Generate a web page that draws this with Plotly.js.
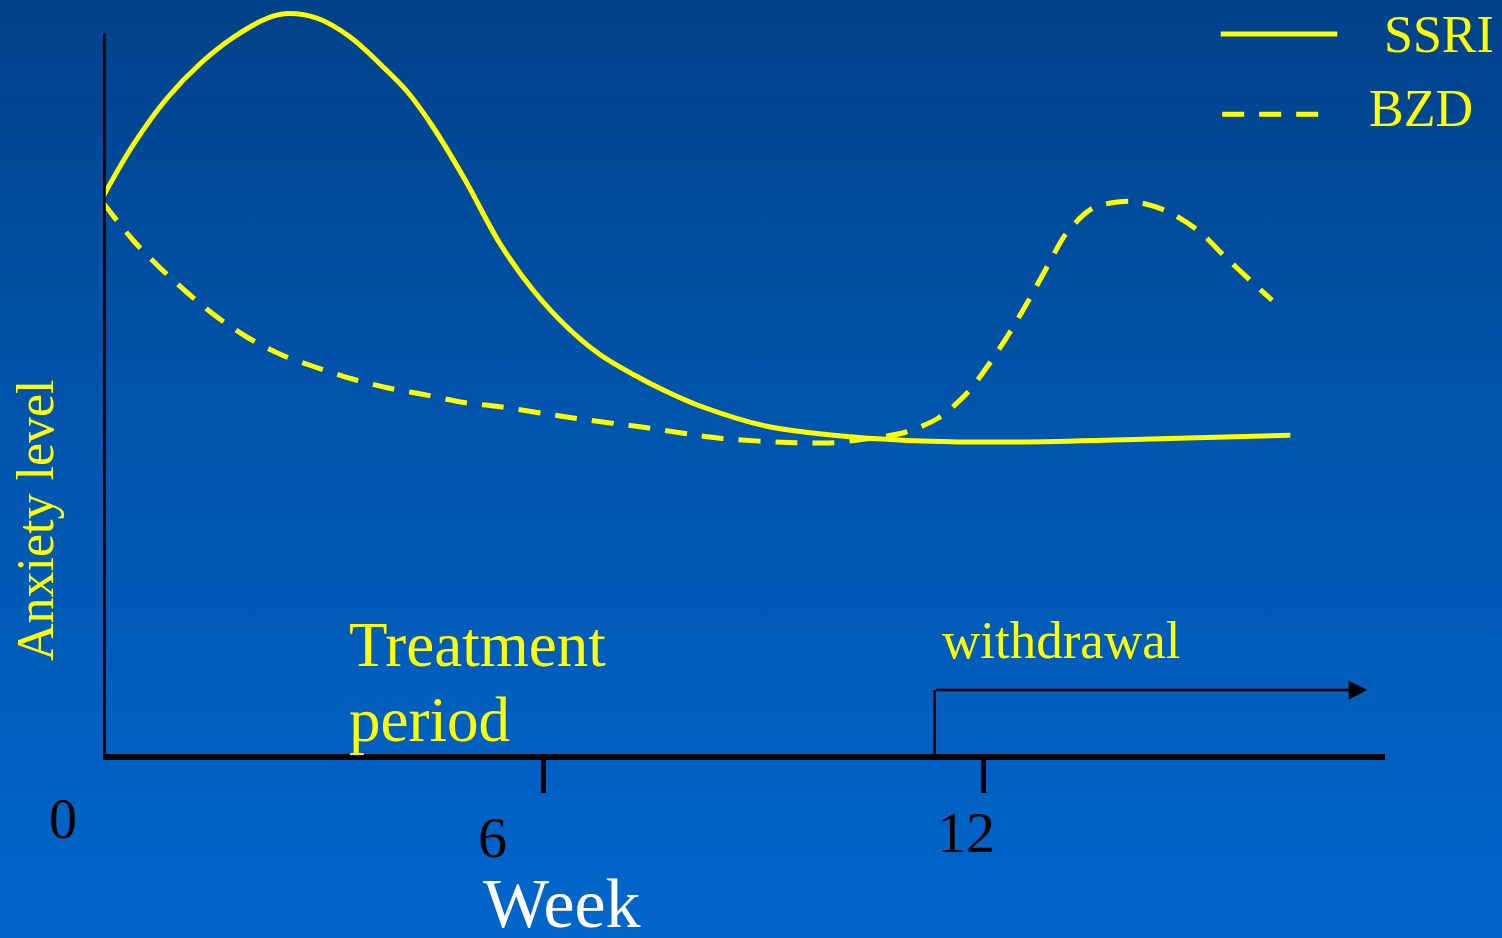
<!DOCTYPE html>
<html>
<head>
<meta charset="utf-8">
<script src="https://cdn.plot.ly/plotly-3.0.1.min.js"></script>
<style>
html,body{margin:0;padding:0;width:1502px;height:938px;overflow:hidden;
background:linear-gradient(to bottom,#00428a 0%,#0055ad 45%,#0066cc 100%);}
#chart{width:1502px;height:938px;}
</style>
</head>
<body>
<div id="chart"></div>
<script>
// Week values and anxiety levels (arbitrary units 0-100)
const ssriWeeks = [0, 0.41, 0.87, 1.32, 1.77, 2.24, 2.48, 2.92, 3.37, 3.82, 4.15, 4.50, 4.94, 5.41, 5.86, 6.33, 6.77, 7.23, 7.69, 8.14, 9.05, 10.19, 11.28, 12.46, 14.28, 16.19];
const ssriLevel = [74.3, 81.2, 87.4, 92.0, 95.5, 98.1, 98.7, 98.1, 95.6, 91.6, 88.3, 83.6, 76.5, 68.1, 61.9, 56.9, 53.3, 50.6, 48.3, 46.4, 43.7, 42.3, 41.7, 41.6, 42.0, 42.5];
const bzdWeeks = [0, 0.41, 0.78, 1.15, 1.55, 1.96, 2.44, 2.92, 3.40, 3.89, 4.39, 4.90, 5.41, 6.41, 7.42, 8.41, 9.44, 9.95, 10.32, 10.94, 11.39, 11.78, 12.09, 12.37, 12.64, 12.87, 13.14, 13.50, 14.00, 14.48, 14.92, 15.30, 15.67, 15.94];
const bzdLevel = [73.5, 68.5, 64.8, 61.5, 58.3, 55.6, 53.2, 51.5, 50.0, 48.8, 47.9, 46.9, 46.3, 44.8, 43.5, 42.1, 41.5, 41.5, 41.9, 42.9, 44.8, 48.1, 52.1, 56.3, 60.8, 64.9, 69.5, 72.8, 73.7, 72.5, 69.9, 66.3, 62.9, 60.5];
const tickWeeks = [6, 12];
const tickLabels = ['0', '6', '12'];
const seriesNames = ['SSRI', 'BZD'];
const withdrawalStart = 11.34;
const withdrawalEnd = 17.24;

const yellow = '#ffff00';
const serif = 'Liberation Serif, Times New Roman, serif';
const dash = '22px,15px';

const traces = [
  {x: ssriWeeks, y: ssriLevel, mode: 'lines', name: seriesNames[0],
   line: {color: yellow, width: 5, shape: 'spline', smoothing: 1}, hoverinfo: 'skip'},
  {x: bzdWeeks, y: bzdLevel, mode: 'lines', name: seriesNames[1],
   line: {color: yellow, width: 5, shape: 'spline', smoothing: 0.8, dash: dash}, hoverinfo: 'skip'}
];

const txt = (x, y, text, size, color, extra) => Object.assign({
  xref: 'paper', yref: 'paper', x: x, y: y, text: text, showarrow: false,
  xanchor: 'center', yanchor: 'middle', font: {family: serif, size: size, color: color}
}, extra || {});

const layout = {
  width: 1502, height: 938,
  margin: {l: 103, r: 117, t: 4, b: 184},
  paper_bgcolor: 'rgba(0,0,0,0)',
  plot_bgcolor: 'rgba(0,0,0,0)',
  showlegend: false,
  xaxis: {range: [0, 17.48], showgrid: false, zeroline: false, showline: true,
          linecolor: '#000', linewidth: 5.5, ticks: 'outside', tickvals: tickWeeks,
          ticklen: 33, tickwidth: 5, tickcolor: '#000',
          showticklabels: false, fixedrange: true},
  yaxis: {range: [0, 100], visible: false, fixedrange: true},
  shapes: [
    // y axis line
    {type: 'line', xref: 'x', yref: 'y', x0: 0, x1: 0, y0: -2.4, y1: 96.1,
     line: {color: '#000', width: 5.5}},
    // withdrawal bracket vertical
    {type: 'line', xref: 'x', yref: 'y', x0: withdrawalStart, x1: withdrawalStart, y0: 0, y1: 8.53,
     line: {color: '#000', width: 2.5}},
    // legend lines
    {type: 'line', xref: 'x', yref: 'y', x0: 15.24, x1: 16.83, y0: 96.0, y1: 96.0,
     line: {color: yellow, width: 5}},
    {type: 'line', xref: 'x', yref: 'y', x0: 15.26, x1: 16.6, y0: 85.3, y1: 85.3,
     line: {color: yellow, width: 5, dash: dash}}
  ],
  annotations: [
    {xref: 'x', yref: 'y', x: withdrawalEnd, y: 8.53, ax: withdrawalStart, ay: 8.53,
     axref: 'x', ayref: 'y', showarrow: true, arrowhead: 2, arrowsize: 1.5, arrowwidth: 2.5,
     arrowcolor: '#000', text: ''},
    txt(-0.0312, -0.0867, tickLabels[0], 56, '#000'),
    txt(0.3042, -0.1107, tickLabels[1], 58, '#000'),
    txt(0.6732, -0.1053, tickLabels[2], 58, '#000'),
    txt(0.358, -0.199, 'Week', 70, '#fff'),
    txt(-0.053, 0.312, 'Anxiety level', 52, yellow, {textangle: -90}),
    txt(0.1903, 0.1453, 'Treatment', 63, yellow, {xanchor: 'left'}),
    txt(0.1903, 0.0453, 'period', 63, yellow, {xanchor: 'left'}),
    txt(0.6529, 0.152, 'withdrawal', 53, yellow, {xanchor: 'left'}),
    txt(0.9977, 0.959, seriesNames[0], 52, yellow, {xanchor: 'left'}),
    txt(0.9860, 0.861, seriesNames[1], 52, yellow, {xanchor: 'left'})
  ]
};

Plotly.newPlot('chart', traces, layout, {staticPlot: true, displayModeBar: false});
</script>
</body>
</html>
